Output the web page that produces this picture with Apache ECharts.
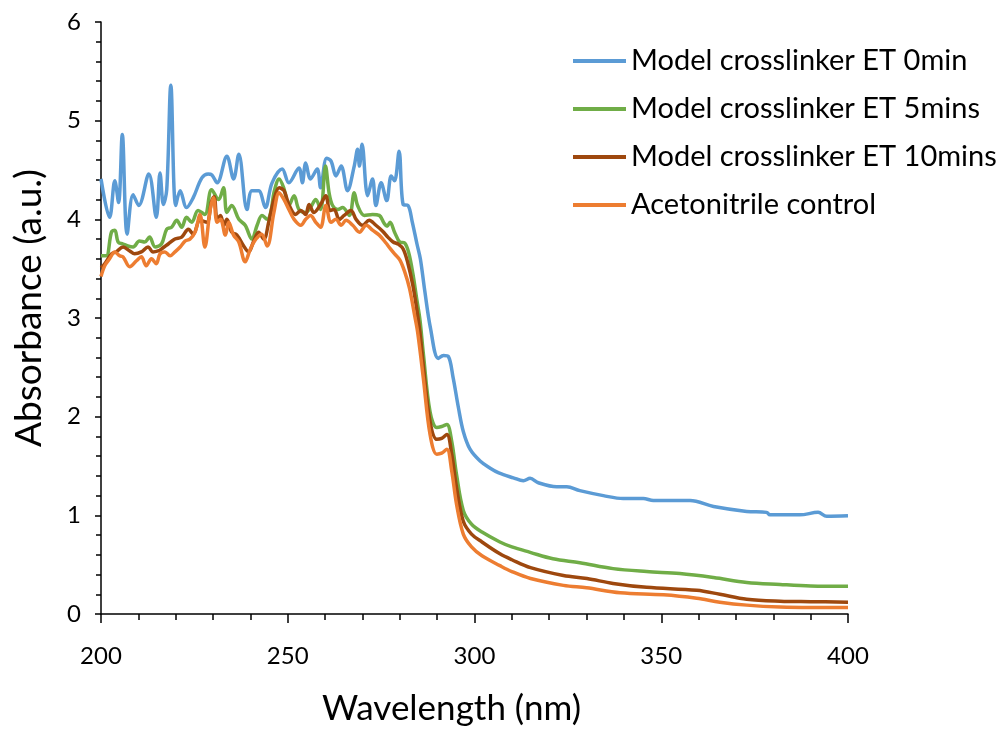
<!DOCTYPE html>
<html>
<head>
<meta charset="utf-8">
<script src="https://cdn.jsdelivr.net/npm/echarts@6/dist/echarts.min.js"></script>
<style>html,body{margin:0;padding:0;background:#fff;}#c{width:1007px;height:731px;}</style>
</head>
<body>
<div id="c"></div>
<script>
var seriesNames = ['Model crosslinker ET 0min', 'Model crosslinker ET 5mins', 'Model crosslinker ET 10mins', 'Acetonitrile control'];
var xTicks = [200, 250, 300, 350, 400];
var yTicks = [0, 1, 2, 3, 4, 5, 6];

var wl0 = [200,202.3,203.7,204.7,205.7,207,208.6,210.1,212.8,214.8,215.8,216.7,217.6,218.7,220,221.2,222.9,224.7,227,228.7,229.7,231.1,233.7,235.5,236.9,239.1,240.4,242.2,244,245.8,248.5,250.3,253,253.9,254.8,256.1,257.9,258.8,260.4,261.6,262.9,264.3,266,267.8,268.7,269.2,269.9,271.4,272.7,273.6,275,276.5,277.7,278.6,279.8,280.9,282.2,283.3,284.6,285.5,286.7,288.2,290.3,291.7,293,294.3,295.7,297,298.8,301.5,304.1,306.5,310.4,313.1,314.9,317.1,322,324.7,328.2,334.5,339.8,345.2,347.9,357.7,364,372.9,378.2,379.1,387.1,392,394.3,400];
var abs0 = [4.41,4.02,4.39,4.17,4.86,3.85,4.25,4.14,4.46,4.02,4.47,4.15,4.30,5.36,4.14,4.29,4.12,4.22,4.42,4.46,4.45,4.37,4.64,4.41,4.66,4.10,4.29,4.29,4.12,4.37,4.51,4.37,4.52,4.37,4.57,4.41,4.51,4.32,4.62,4.59,4.44,4.54,4.29,4.54,4.71,4.54,4.76,4.24,4.41,4.14,4.37,4.19,4.44,4.39,4.69,4.15,4.14,3.98,3.75,3.60,3.27,2.90,2.59,2.62,2.61,2.39,2.09,1.85,1.67,1.55,1.48,1.43,1.38,1.35,1.375,1.33,1.29,1.29,1.25,1.20,1.17,1.17,1.15,1.15,1.09,1.04,1.03,1.005,1.005,1.03,0.99,0.995];

var wl5 = [200,201.4,202.8,203.7,204.6,205.9,207.2,208.6,210.3,211.7,213,214.5,216.2,217.6,218.9,220.3,221.6,222.9,224.3,226,227.8,229.6,231.5,232.8,233.7,235,236.9,238.6,240.4,241.8,243.1,244.5,245.5,246.3,247.7,249,250.3,251.7,253,254.8,256.1,257.5,258.8,260.1,261.1,262,263.4,264.7,266.5,267.8,268.7,270.5,272.7,274.5,275.8,276.6,277.4,278.6,280,281.3,282.4,283.5,284.5,285.4,286.3,288.1,289.9,291.2,292.6,293.9,295.2,297,299.2,302,306.8,310,314.9,321,328.2,337.1,346.1,355,364,372.9,381.8,390,400];
var abs5 = [3.63,3.63,3.87,3.89,3.77,3.75,3.73,3.72,3.78,3.77,3.82,3.72,3.75,3.90,3.92,3.99,3.92,4.02,3.97,4.09,4.05,4.30,4.20,4.32,4.07,4.14,4.00,3.94,3.80,3.94,4.04,4.00,4.08,4.27,4.41,4.31,4.14,4.24,4.10,4.07,4.12,4.20,4.10,4.54,4.26,4.14,4.10,4.12,4.04,4.27,4.14,4.04,4.05,4.04,3.96,3.93,3.97,3.87,3.77,3.76,3.66,3.45,3.20,2.98,2.64,2.05,1.89,1.90,1.92,1.75,1.41,1.05,0.91,0.83,0.73,0.68,0.625,0.56,0.52,0.46,0.43,0.41,0.37,0.32,0.30,0.285,0.28];

var wl10 = [200,201,202.8,204.1,205.9,207.7,209,210.8,212.6,213.9,215.3,216.2,218,219.8,221.6,223.4,224.7,226.5,228.3,229.6,230.3,231.1,232,232.9,233.7,235,236.4,238.2,239.5,240.9,242.2,243.6,244.9,246.3,247.7,249,250.3,252.1,253.5,254.8,255.7,257,258.8,260.2,261.3,262.4,263.8,265.1,266.9,268.3,270,271.8,273.6,275.4,276.8,278.2,279.5,280.9,282.2,283.5,284.5,285.4,286.3,288.1,289.9,291.2,292.6,293.9,295.2,297,299.2,302,306.8,310,315,323.8,330.1,337.1,346.1,359.5,365.7,372.9,381.8,390,400];
var abs10 = [3.51,3.55,3.65,3.67,3.72,3.68,3.65,3.67,3.72,3.67,3.68,3.70,3.75,3.80,3.82,3.90,3.85,3.99,3.97,4.18,4.23,4.00,4.04,3.94,4.00,3.87,3.84,3.73,3.67,3.78,3.87,3.80,3.97,4.20,4.32,4.29,4.15,4.05,4.09,4.05,4.15,4.07,4.15,4.24,4.09,4.10,4.00,4.04,4.09,4.00,3.94,3.99,3.94,3.88,3.82,3.77,3.75,3.70,3.55,3.33,3.10,2.85,2.52,1.95,1.77,1.78,1.82,1.62,1.28,0.94,0.81,0.73,0.61,0.55,0.47,0.39,0.36,0.31,0.27,0.24,0.20,0.15,0.13,0.125,0.12];

var wlAc = [200,201,202.3,203.7,205,205.9,207.7,209.5,210.8,212.1,213.5,214.8,215.8,217.1,218.5,219.8,221.2,222.5,223.8,225.2,226.5,227.8,229.2,230.1,231.1,232,233.3,234.2,235.5,236.9,238.6,240,241.5,243,244.5,246.3,247.7,249,250.3,251.7,253.5,254.8,256.1,257.5,258.8,260.2,261.6,262.9,264.3,265.6,267.4,269.2,271,272.7,274.5,276.3,277.5,278.6,280,281.3,282.6,284,284.8,286.3,288.1,289.9,291.2,292.6,293.9,295.2,297,299.2,302,306.8,310,315,323.8,330,339,350.6,359.5,365.7,372.9,381.8,390,400];
var absAc = [3.42,3.53,3.60,3.67,3.63,3.62,3.52,3.58,3.62,3.53,3.60,3.55,3.65,3.67,3.63,3.67,3.72,3.78,3.80,3.87,4.05,3.72,4.09,4.22,3.97,4.00,3.84,3.97,3.84,3.77,3.57,3.70,3.80,3.85,3.73,4.07,4.27,4.20,4.10,4.00,3.94,4.00,4.04,3.97,3.92,4.14,3.97,4.00,3.94,3.99,3.94,3.87,3.94,3.89,3.84,3.76,3.70,3.65,3.59,3.47,3.30,3.02,2.85,2.39,1.82,1.62,1.63,1.67,1.45,1.11,0.81,0.68,0.59,0.49,0.43,0.36,0.29,0.265,0.215,0.195,0.16,0.12,0.09,0.07,0.065,0.065];

var colors = ['#5B9BD5', '#70AD47', '#9E480E', '#ED7D31'];
function pairs(xs, ys) { return xs.map(function (x, i) { return [x, ys[i]]; }); }
var allData = [pairs(wl0, abs0), pairs(wl5, abs5), pairs(wl10, abs10), pairs(wlAc, absAc)];

var FONT = 'Lato';
var chart = echarts.init(document.getElementById('c'), null, { renderer: 'canvas' });
chart.setOption({
  animation: false,
  backgroundColor: '#fff',
  color: colors,
  grid: { left: 101, right: 159, top: 22, bottom: 114, containLabel: false },
  legend: {
    orient: 'vertical', left: 568, top: 40,
    itemWidth: 53, itemHeight: 4, itemGap: 16,
    icon: 'rect',
    textStyle: { fontFamily: FONT, fontSize: 29, color: '#000', lineHeight: 32 },
    data: seriesNames
  },
  xAxis: {
    type: 'value', min: 200, max: 400, interval: 50,
    name: 'Wavelength (nm)', nameLocation: 'middle', nameGap: 77,
    nameTextStyle: { fontFamily: FONT, fontSize: 35, color: '#000', padding: [0, 46, 0, 0] },
    axisLine: { lineStyle: { color: '#000', width: 1.5 } },
    axisTick: { show: true, inside: false, length: 9, lineStyle: { color: '#000', width: 1.5 } },
    minorTick: { show: true, splitNumber: 5, length: 6, lineStyle: { color: '#000', width: 1.5 } },
    axisLabel: { fontFamily: FONT, fontSize: 24, color: '#000', margin: 30,
      formatter: function (v) { return xTicks.indexOf(v) >= 0 ? String(v) : ''; } },
    splitLine: { show: false }
  },
  yAxis: {
    type: 'value', min: 0, max: 6, interval: 1,
    name: 'Absorbance (a.u.)', nameLocation: 'middle', nameGap: 53,
    nameTextStyle: { fontFamily: FONT, fontSize: 37, color: '#000', padding: [0, 0, 0, 20] },
    axisLine: { show: true, lineStyle: { color: '#000', width: 1.5 } },
    axisTick: { show: true, inside: false, length: 6, lineStyle: { color: '#000', width: 1.5 } },
    minorTick: { show: true, splitNumber: 5, length: 5, lineStyle: { color: '#000', width: 1.5 } },
    axisLabel: { fontFamily: FONT, fontSize: 24, color: '#000', margin: 20,
      formatter: function (v) { return yTicks.indexOf(v) >= 0 ? String(v) : ''; } },
    splitLine: { show: false }
  },
  series: allData.map(function (d, i) {
    return {
      name: seriesNames[i], type: 'line', data: d,
      showSymbol: false, symbol: 'none', smooth: 0.35,
      lineStyle: { width: 3.5, color: colors[i] },
      itemStyle: { color: colors[i] }
    };
  })
});
</script>
</body>
</html>
